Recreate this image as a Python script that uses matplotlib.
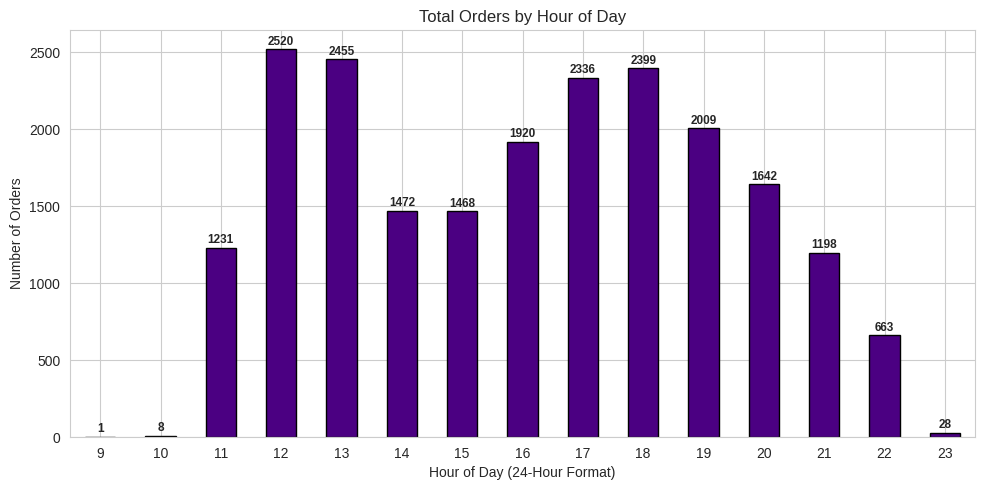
import matplotlib
matplotlib.use('Agg')
import matplotlib.pyplot as plt
import seaborn as sns
import pandas as pd

sns.set_style('whitegrid')
plt.rcParams['font.family'] = ['Liberation Sans', 'DejaVu Sans']

hours = [9, 10, 11, 12, 13, 14, 15, 16, 17, 18, 19, 20, 21, 22, 23]
orders = [1, 8, 1231, 2520, 2455, 1472, 1468, 1920, 2336, 2399, 2009, 1642, 1198, 663, 28]

s = pd.Series(orders, index=hours)

fig, ax = plt.subplots(figsize=(9.89, 4.9), dpi=100)
s.plot(kind='bar', color='indigo', edgecolor='black', ax=ax, rot=0)

ax.bar_label(ax.containers[0], padding=1, fontsize=8.5, fontweight='bold')

ax.set_title('Total Orders by Hour of Day')
ax.set_xlabel('Hour of Day (24-Hour Format)')
ax.set_ylabel('Number of Orders')
ax.grid(True, axis='x')
fig.subplots_adjust(left=70/989, right=975/989, top=1 - 30/490, bottom=1 - 437/490)
plt.savefig('out.png')
